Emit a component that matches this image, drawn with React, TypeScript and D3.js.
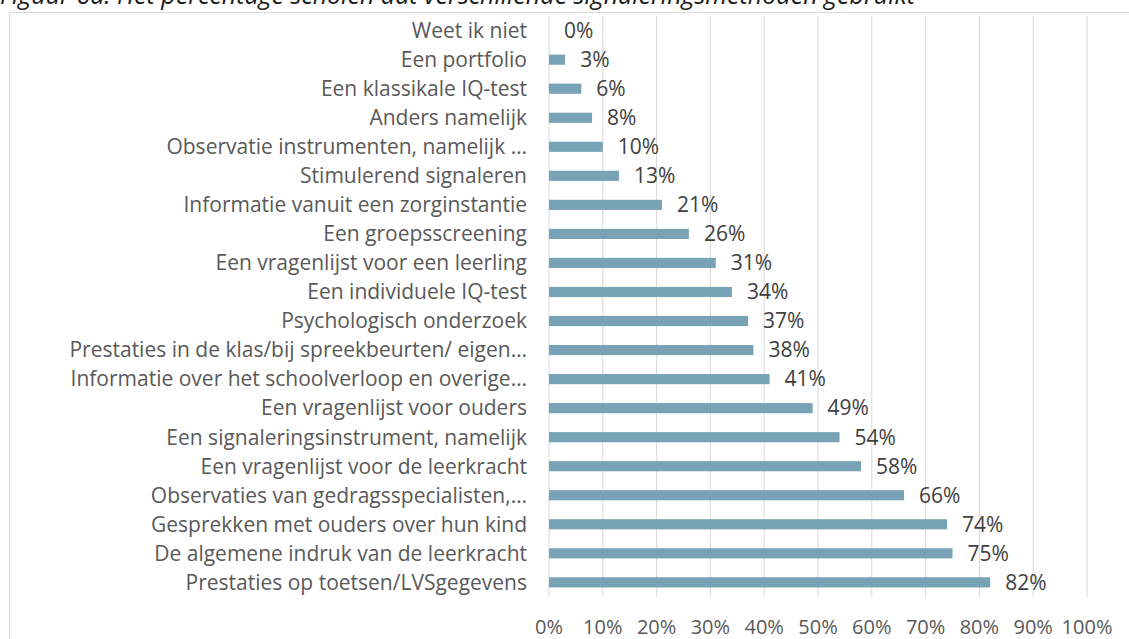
import * as d3 from "d3";

const TITLE = "Figuur 6a: Het percentage scholen dat verschillende signaleringsmethoden gebruikt";

const CATEGORIES = [
  "Weet ik niet",
  "Een portfolio",
  "Een klassikale IQ-test",
  "Anders namelijk",
  "Observatie instrumenten, namelijk …",
  "Stimulerend signaleren",
  "Informatie vanuit een zorginstantie",
  "Een groepsscreening",
  "Een vragenlijst voor een leerling",
  "Een individuele IQ-test",
  "Psychologisch onderzoek",
  "Prestaties in de klas/bij spreekbeurten/ eigen…",
  "Informatie over het schoolverloop en overige…",
  "Een vragenlijst voor ouders",
  "Een signaleringsinstrument, namelijk",
  "Een vragenlijst voor de leerkracht",
  "Observaties van gedragsspecialisten,…",
  "Gesprekken met ouders over hun kind",
  "De algemene indruk van de leerkracht",
  "Prestaties op toetsen/LVSgegevens",
];

const VALUES = [0, 3, 6, 8, 10, 13, 21, 26, 31, 34, 37, 38, 41, 49, 54, 58, 66, 74, 75, 82];

const TICKS = [0, 10, 20, 30, 40, 50, 60, 70, 80, 90, 100];

const FONT = "'Open Sans', 'Noto Sans', sans-serif";

export default function App() {
  const width = 1129;
  const height = 639;
  const left = 549;
  const right = 1087;
  const top = 16;
  const bottom = 597;

  const x = d3.scaleLinear().domain([0, 100]).range([left, right]);
  const y = d3.scaleBand().domain(CATEGORIES).range([top, bottom]).paddingInner(0.65).paddingOuter(0.33);

  return (
    <svg
      width={width}
      height={height}
      style={{ position: "absolute", left: 0, top: 0, background: "#fff" }}
      fontFamily={FONT}
    >
      {/* frame */}
      <rect x={9.5} y={12.5} width={1140} height={640} fill="none" stroke="#d9d9d9" strokeWidth={1} />
      {/* title, mostly cut off at the top like the source */}
      <text x={0} y={4} fontSize={25} fontStyle="italic" fill="#1a1a1a">{TITLE}</text>
      {/* gridlines */}
      {TICKS.map((t) => (
        <line key={"g" + t} x1={x(t)} x2={x(t)} y1={top} y2={bottom} stroke="#d9d9d9" strokeWidth={1} />
      ))}
      {/* bars */}
      {CATEGORIES.map((c, i) => {
        const yy = y(c)!;
        return (
          <g key={c}>
            <rect x={x(0)} y={yy} width={x(VALUES[i]) - x(0)} height={y.bandwidth()} fill="#78a3b6" />
            <text
              x={x(VALUES[i]) + 15}
              y={yy + y.bandwidth() / 2}
              dy="0.35em"
              fontSize={21}
              fill="#404040"
            >
              {VALUES[i] + "%"}
            </text>
            <text
              x={left - 22}
              y={yy + y.bandwidth() / 2}
              dy="0.35em"
              textAnchor="end"
              fontSize={21}
              fill="#595959"
            >
              {c}
            </text>
          </g>
        );
      })}
      {/* x axis labels */}
      {TICKS.map((t) => (
        <text key={"t" + t} x={x(t)} y={634} textAnchor="middle" fontSize={20} fill="#595959">
          {t + "%"}
        </text>
      ))}
    </svg>
  );
}
